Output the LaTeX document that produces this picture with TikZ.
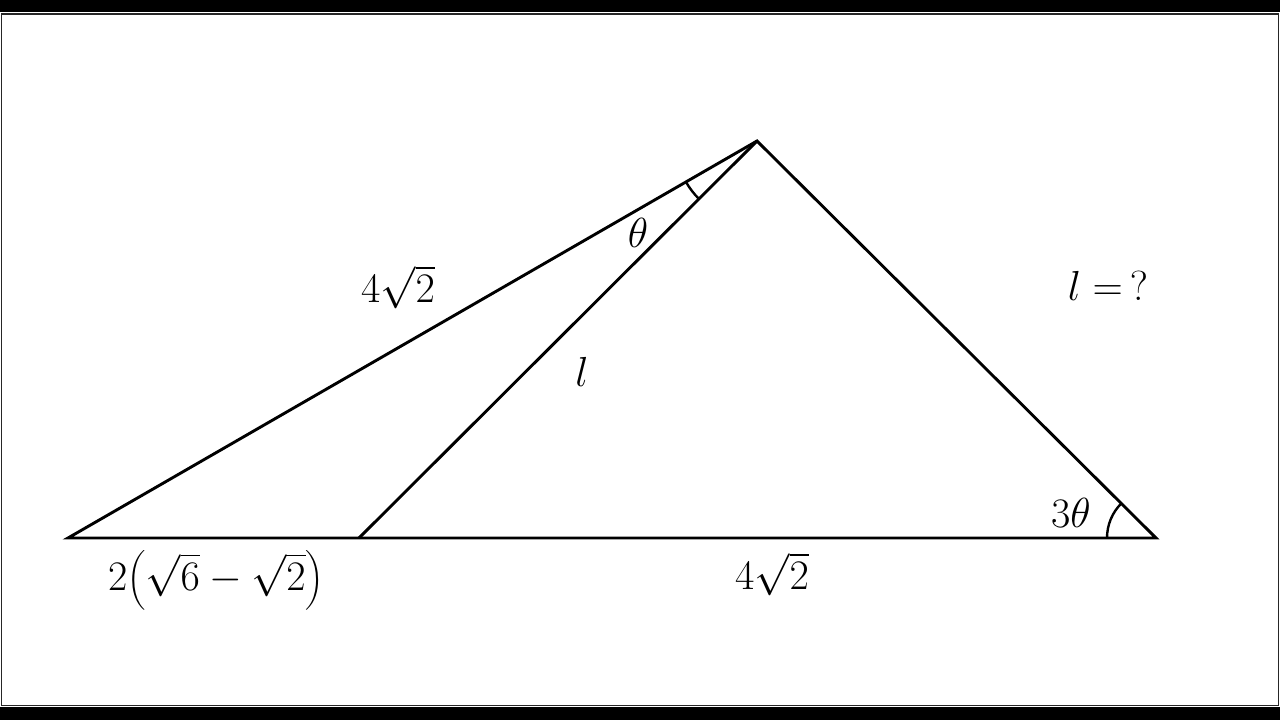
\RequirePackage{fix-cm}
\documentclass[tikz,border=0pt]{standalone}
\usepackage{amsmath}
\usetikzlibrary{calc}
\begin{document}
\begin{tikzpicture}[x=1pt,y=-1pt,
  edge/.style={line width=2.9pt, line join=miter},
  lbl/.style={font=\fontsize{42}{48}\selectfont, inner sep=0pt}]
\useasboundingbox (0,0) rectangle (1280,720);
\fill[black] (0,0) rectangle (1280,12);
\fill[black] (0,707) rectangle (1280,720);
\draw[line width=1.6pt, black!85] (1.5,14) rectangle (1278.5,705.5);
% points
\coordinate (A) at (68,538);
\coordinate (B) at (359,538);
\coordinate (C) at (1156,538);
\coordinate (D) at (757,141);
\draw[edge] (A) -- (C) -- (D) -- cycle;
\draw[edge] (B) -- (D);
% angle arcs
\draw[line width=2.4pt] ($(D)!82pt!(A)$) arc[start angle=-150.05, end angle=-135.07, radius=82pt];
\draw[line width=2.4pt] ($(C)!49pt!(A)$) arc[start angle=180, end angle=135.1, radius=49pt];
% labels
\node[lbl] (s1) at (398,287) {$4\sqrt{2}$};
\node[lbl] (th) at (638,233) {$\theta$};
\node[lbl] (ll) at (582,372) {$l$};
\node[lbl] (q) at (1108,286) {$l\;{=}\,?$};
\node[lbl] (t3) at (1071,513) {$3\theta$};
\node[lbl] (s2) at (772,574) {$4\sqrt{2}$};
\node[lbl] (s3) at (216,580) {$2\bigl(\sqrt{6}-\sqrt{2}\bigr)$};
\end{tikzpicture}
\end{document}
